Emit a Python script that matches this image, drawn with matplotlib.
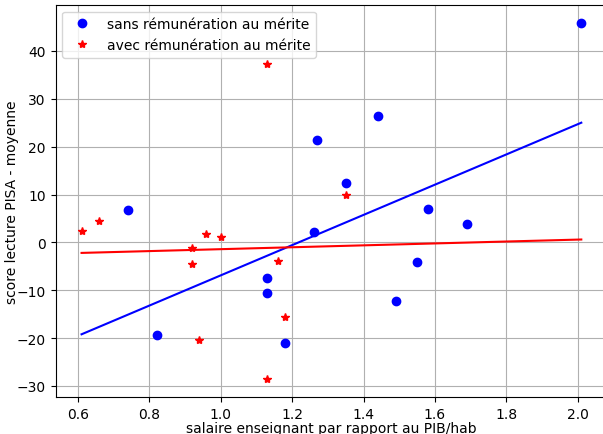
import matplotlib
matplotlib.use("Agg")
import matplotlib.pyplot as plt
import numpy as np

# sans rémunération au mérite
x_sans = [0.74, 0.82, 1.13, 1.13, 1.18, 1.26, 1.27, 1.35, 1.44, 1.49, 1.55, 1.58, 1.69, 2.01]
y_sans = [6.8, -19.4, -7.4, -10.5, -21.1, 2.1, 21.3, 12.5, 26.4, -12.3, -4.2, 7.0, 3.9, 45.8]

# avec rémunération au mérite
x_avec = [0.61, 0.66, 0.92, 0.92, 0.94, 0.96, 1.00, 1.13, 1.13, 1.16, 1.18, 1.35]
y_avec = [2.3, 4.5, -1.2, -4.5, -20.4, 1.8, 1.1, 37.2, -28.5, -3.8, -15.6, 9.8]

# droites de tendance (extrémités)
x_fit = [0.61, 2.01]
y_fit_sans = [-19.2, 25.0]
y_fit_avec = [-2.2, 0.6]

fig = plt.figure(figsize=(6.03, 4.35), dpi=100)
ax = fig.add_axes([55.5 / 603, 1 - 398 / 435, 551.5 / 603, 392.3 / 435])

ax.plot(x_sans, y_sans, "bo", label="sans rémunération au mérite")
ax.plot(x_avec, y_avec, "r*", label="avec rémunération au mérite")
ax.plot(x_fit, y_fit_sans, "b")
ax.plot(x_fit, y_fit_avec, "r")

ax.set_xlim(0.537, 2.082)
ax.set_ylim(-32.3, 49.65)
ax.grid()
ax.set_xlabel("salaire enseignant par rapport au PIB/hab", labelpad=0)
ax.set_ylabel("score lecture PISA - moyenne", labelpad=-2)
ax.legend(loc="upper left")

fig.savefig("out.png", dpi=100)
